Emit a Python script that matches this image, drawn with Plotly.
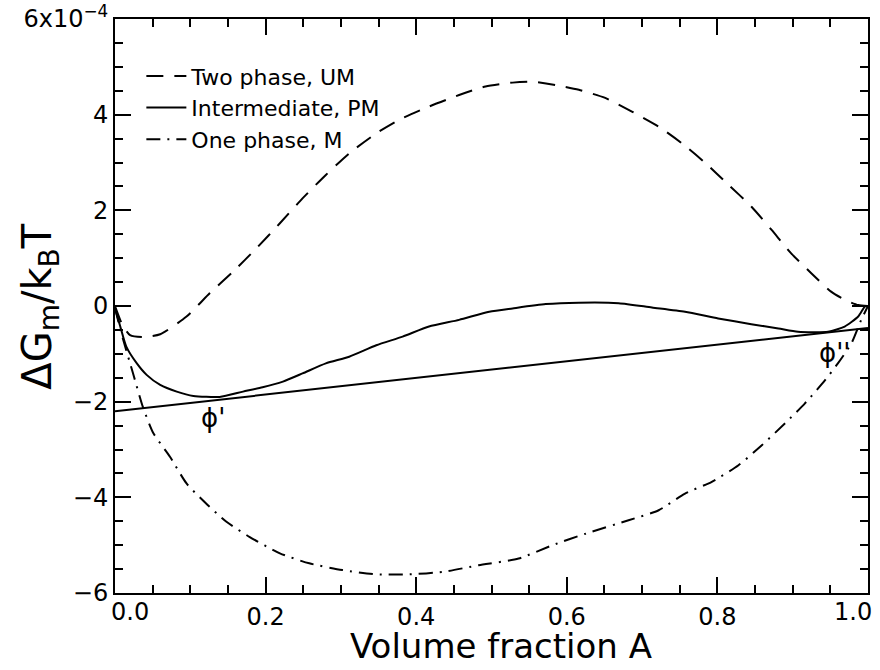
import plotly.graph_objects as go

# Free energy of mixing curves, in units of 1e-4 (Delta G_m / k_B T)
phi_um = [0.0, 0.01, 0.02, 0.037, 0.06, 0.095, 0.126, 0.157, 0.188, 0.219, 0.249, 0.28,
          0.311, 0.347, 0.377, 0.417, 0.457, 0.492, 0.528, 0.554, 0.585, 0.616, 0.651,
          0.687, 0.722, 0.753, 0.784, 0.815, 0.845, 0.872, 0.898, 0.925, 0.951, 0.969,
          0.987, 1.0]
g_um = [0.0, -0.4, -0.61, -0.65, -0.59, -0.22, 0.27, 0.72, 1.21, 1.73, 2.25, 2.74,
        3.19, 3.61, 3.89, 4.17, 4.41, 4.59, 4.67, 4.69, 4.62, 4.52, 4.35,
        4.06, 3.75, 3.40, 2.99, 2.53, 2.08, 1.59, 1.10, 0.68, 0.30, 0.13,
        0.02, 0.0]

phi_pm = [0.0, 0.007, 0.015, 0.029, 0.042, 0.06, 0.082, 0.104, 0.139, 0.17, 0.196,
          0.223, 0.249, 0.28, 0.311, 0.347, 0.382, 0.417, 0.457, 0.497, 0.528, 0.572,
          0.616, 0.669, 0.713, 0.757, 0.801, 0.845, 0.881, 0.907, 0.947, 0.969, 0.987,
          0.996, 1.0]
g_pm = [-0.05, -0.43, -0.85, -1.2, -1.44, -1.65, -1.79, -1.88, -1.9, -1.79, -1.70,
        -1.58, -1.41, -1.2, -1.06, -0.82, -0.64, -0.43, -0.29, -0.12, -0.05, 0.04,
        0.07, 0.06, -0.03, -0.12, -0.26, -0.38, -0.47, -0.54, -0.54, -0.43, -0.22,
        -0.01, 0.0]

phi_m = [0.0, 0.011, 0.024, 0.037, 0.051, 0.073, 0.095, 0.121, 0.148, 0.179, 0.219,
         0.258, 0.302, 0.347, 0.391, 0.435, 0.483, 0.536, 0.581, 0.625, 0.682, 0.722,
         0.757, 0.792, 0.828, 0.859, 0.89, 0.916, 0.943, 0.96, 0.978, 0.991, 1.0]
g_m = [-0.05, -0.71, -1.41, -2.11, -2.66, -3.15, -3.71, -4.13, -4.51, -4.83, -5.17,
       -5.38, -5.52, -5.61, -5.61, -5.56, -5.42, -5.28, -5.0, -4.76, -4.48, -4.27,
       -3.92, -3.68, -3.33, -2.91, -2.45, -2.04, -1.55, -1.2, -0.78, -0.29, 0.0]

# Common tangent touching the intermediate curve at phi' and phi''
phi_tan = [0.0, 1.0]
g_tan = [-2.2, -0.46]

series_names = ["Two phase, UM", "Intermediate, PM", "One phase, M"]

x_ticks = [0.2, 0.4, 0.6, 0.8]
x_ticktext = ["0.2", "0.4", "0.6", "0.8"]
x_edge_ticks = [0.0, 1.0]
x_edge_text = ["0.0", "1.0"]
y_ticks = [-6, -4, -2, 0, 2, 4, 6]
y_ticktext = ["\u22126", "\u22124", "\u22122", "0", "2", "4", "6x10<sup>\u22124</sup>"]

FONT = "DejaVu Sans"
TICK_SIZE = 24

fig = go.Figure()
fig.add_trace(go.Scatter(x=phi_um, y=g_um, mode="lines", name=series_names[0],
                         line=dict(color="black", width=2, dash="17px,11px",
                                   shape="spline", smoothing=0.6)))
fig.add_trace(go.Scatter(x=phi_pm, y=g_pm, mode="lines", name=series_names[1],
                         line=dict(color="black", width=2, shape="spline", smoothing=0.6)))
fig.add_trace(go.Scatter(x=phi_m, y=g_m, mode="lines", name=series_names[2],
                         line=dict(color="black", width=2, dash="14px,7px,2px,7px",
                                   shape="spline", smoothing=0.6)))
fig.add_trace(go.Scatter(x=phi_tan, y=g_tan, mode="lines", showlegend=False,
                         line=dict(color="black", width=2)))

axis_common = dict(
    showgrid=False, zeroline=False, showline=True, linecolor="black", linewidth=2,
    mirror="allticks", ticks="inside", ticklen=16, tickwidth=1.5, tickcolor="black",
    tickfont=dict(family=FONT, size=TICK_SIZE, color="black"), automargin=False,
)

fig.update_xaxes(
    range=[0, 1], tickmode="array", tickvals=x_ticks, ticktext=x_ticktext,
    ticklabelstandoff=1,
    minor=dict(dtick=0.05, ticks="inside", ticklen=8, tickwidth=1.5, tickcolor="black"),
    **axis_common,
)
fig.update_yaxes(
    range=[-6, 6], tickmode="array", tickvals=y_ticks, ticktext=y_ticktext,
    minor=dict(dtick=0.5, ticks="inside", ticklen=8, tickwidth=1.5, tickcolor="black"),
    **axis_common,
)

# End labels of the x axis sit just inside the frame
annotations = [
    dict(x=xv + (0.02 if xv == 0.0 else -0.02), y=0, xref="x", yref="paper", text=t,
         showarrow=False, yanchor="top", yshift=-3,
         font=dict(family=FONT, size=TICK_SIZE, color="black"))
    for xv, t in zip(x_edge_ticks, x_edge_text)
]
annotations += [
    dict(x=0.512, y=0, xref="paper", yref="paper", xanchor="center", yanchor="top",
         yshift=-31, text="Volume fraction A", showarrow=False,
         font=dict(family=FONT, size=34, color="black")),
    dict(x=-0.1, y=0.5, xref="paper", yref="paper", xanchor="center", yanchor="middle",
         text="\u0394G<sub>m</sub>/k<sub>B</sub>T",
         textangle=-90, showarrow=False, font=dict(family=FONT, size=40, color="black")),
    dict(x=0.13, y=-2.34, xref="x", yref="y", text="\u03d5'", showarrow=False,
         font=dict(family=FONT, size=26, color="black")),
    dict(x=0.955, y=-0.98, xref="x", yref="y", text="\u03d5''", showarrow=False,
         font=dict(family=FONT, size=26, color="black")),
]

fig.update_layout(
    width=880, height=670,
    margin=dict(l=115, r=12, t=19, b=77),
    paper_bgcolor="white", plot_bgcolor="white",
    font=dict(family=FONT, color="black"),
    annotations=annotations,
    legend=dict(x=0.035, y=0.937, xanchor="left", yanchor="top",
                bgcolor="rgba(0,0,0,0)", font=dict(family=FONT, size=22, color="black"),
                itemwidth=40, tracegroupgap=0),
)

fig.write_html("out.html")
